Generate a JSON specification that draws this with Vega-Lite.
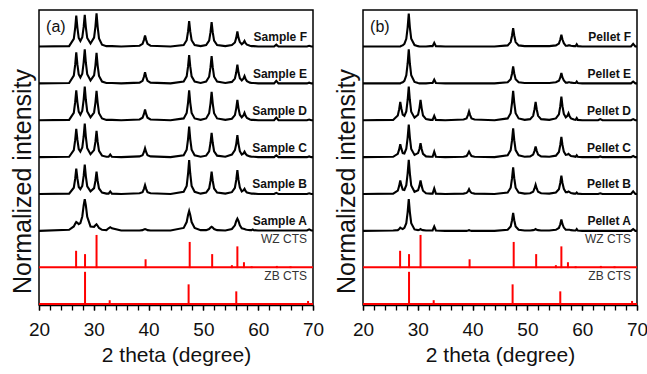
{
"$schema":"https://vega.github.io/schema/vega-lite/v6.json",
"background":"white",
"padding":{"left":9,"top":8,"right":0,"bottom":5},
"spacing":8,
"config":{"view":{"stroke":"black","strokeWidth":1.5},"font":"Liberation Sans",
"axisX":{"labelFontSize":19,"titleFontSize":21,"tickSize":5,"tickWidth":1.3,"tickColor":"black","domainColor":"black","domainWidth":1.5,"labelColor":"#111","titleColor":"#111","titleFontWeight":"normal","labelPadding":10,"titlePadding":5,"grid":false,"labelOverlap":false,"labelFlush":false,"labelFont":"Liberation Sans","titleFont":"Liberation Sans"},
"axisY":{"labels":false,"ticks":false,"domain":false,"grid":false,"titleFontSize":25,"titleFontWeight":"normal","titleColor":"#111","titlePadding":4,"titleFont":"Liberation Sans"}},
"datasets":{
"a":[
{"x":20,"F":7.01,"E":6.01,"D":5.01,"C":4.01,"B":3.01,"A":2.01},
{"x":25.5,"F":7.02,"E":6.02,"D":5.02,"C":4.02,"B":3.02,"A":2.04},
{"x":26.35,"F":7.22,"E":6.22,"D":5.21,"C":4.20,"B":3.18,"A":2.13},
{"x":26.6,"F":7.51,"E":6.51,"D":5.50,"C":4.47,"B":3.42,"A":2.20},
{"x":26.8,"F":7.85,"E":6.85,"D":5.82,"C":4.78,"B":3.70,"A":2.25},
{"x":27.0,"F":7.53,"E":6.53,"D":5.51,"C":4.49,"B":3.44,"A":2.23},
{"x":27.25,"F":7.24,"E":6.25,"D":5.24,"C":4.23,"B":3.20,"A":2.19},
{"x":27.55,"F":7.16,"E":6.17,"D":5.16,"C":4.16,"B":3.14,"A":2.22},
{"x":27.9,"F":7.26,"E":6.27,"D":5.27,"C":4.27,"B":3.23,"A":2.40},
{"x":28.15,"F":7.54,"E":6.58,"D":5.57,"C":4.57,"B":3.50,"A":2.70},
{"x":28.35,"F":7.87,"E":6.93,"D":5.92,"C":4.92,"B":3.81,"A":2.87},
{"x":28.55,"F":7.53,"E":6.57,"D":5.56,"C":4.56,"B":3.49,"A":2.70},
{"x":28.8,"F":7.24,"E":6.26,"D":5.25,"C":4.25,"B":3.22,"A":2.39},
{"x":29.4,"F":7.09,"E":6.09,"D":5.09,"C":4.09,"B":3.08,"A":2.13},
{"x":30.05,"F":7.25,"E":6.23,"D":5.22,"C":4.20,"B":3.17,"A":2.12},
{"x":30.3,"F":7.55,"E":6.50,"D":5.49,"C":4.43,"B":3.37,"A":2.16},
{"x":30.5,"F":7.91,"E":6.84,"D":5.81,"C":4.72,"B":3.62,"A":2.19},
{"x":30.7,"F":7.55,"E":6.50,"D":5.49,"C":4.43,"B":3.37,"A":2.15},
{"x":30.95,"F":7.23,"E":6.21,"D":5.20,"C":4.18,"B":3.16,"A":2.09},
{"x":31.5,"F":7.06,"E":6.06,"D":5.06,"C":4.05,"B":3.05,"A":2.04},
{"x":32.3,"F":7.02,"E":6.02,"D":5.02,"C":4.02,"B":3.02,"A":2.03},
{"x":32.7,"F":7.02,"E":6.02,"D":5.02,"C":4.02,"B":3.02,"A":2.08},
{"x":33.0,"F":7.02,"E":6.02,"D":5.02,"C":4.08,"B":3.08,"A":2.11},
{"x":33.3,"F":7.02,"E":6.02,"D":5.02,"C":4.02,"B":3.02,"A":2.08},
{"x":35,"F":7.01,"E":6.01,"D":5.01,"C":4.01,"B":3.01,"A":2.02},
{"x":38.35,"F":7.03,"E":6.03,"D":5.03,"C":4.03,"B":3.03,"A":2.02},
{"x":38.9,"F":7.08,"E":6.08,"D":5.08,"C":4.06,"B":3.06,"A":2.03},
{"x":39.15,"F":7.19,"E":6.19,"D":5.18,"C":4.15,"B":3.15,"A":2.05},
{"x":39.35,"F":7.31,"E":6.31,"D":5.30,"C":4.25,"B":3.25,"A":2.06},
{"x":39.55,"F":7.19,"E":6.19,"D":5.18,"C":4.15,"B":3.15,"A":2.05},
{"x":39.8,"F":7.08,"E":6.08,"D":5.08,"C":4.06,"B":3.06,"A":2.03},
{"x":40.35,"F":7.03,"E":6.03,"D":5.03,"C":4.03,"B":3.03,"A":2.02},
{"x":44,"F":7.01,"E":6.01,"D":5.01,"C":4.01,"B":3.01,"A":2.02},
{"x":46.4,"F":7.05,"E":6.06,"D":5.06,"C":4.06,"B":3.07,"A":2.09},
{"x":46.95,"F":7.18,"E":6.20,"D":5.21,"C":4.21,"B":3.23,"A":2.25},
{"x":47.2,"F":7.42,"E":6.47,"D":5.49,"C":4.50,"B":3.56,"A":2.44},
{"x":47.4,"F":7.70,"E":6.78,"D":5.82,"C":4.84,"B":3.93,"A":2.55},
{"x":47.6,"F":7.42,"E":6.47,"D":5.49,"C":4.50,"B":3.56,"A":2.44},
{"x":47.85,"F":7.18,"E":6.20,"D":5.21,"C":4.21,"B":3.23,"A":2.25},
{"x":48.4,"F":7.05,"E":6.06,"D":5.06,"C":4.06,"B":3.07,"A":2.09},
{"x":49.5,"F":7.02,"E":6.02,"D":5.02,"C":4.02,"B":3.02,"A":2.03},
{"x":50.5,"F":7.05,"E":6.06,"D":5.06,"C":4.05,"B":3.05,"A":2.03},
{"x":51.05,"F":7.17,"E":6.19,"D":5.20,"C":4.17,"B":3.16,"A":2.06},
{"x":51.3,"F":7.40,"E":6.45,"D":5.47,"C":4.40,"B":3.37,"A":2.10},
{"x":51.5,"F":7.67,"E":6.75,"D":5.78,"C":4.67,"B":3.62,"A":2.12},
{"x":51.7,"F":7.40,"E":6.45,"D":5.47,"C":4.40,"B":3.37,"A":2.10},
{"x":51.95,"F":7.17,"E":6.19,"D":5.20,"C":4.17,"B":3.16,"A":2.06},
{"x":52.5,"F":7.05,"E":6.06,"D":5.06,"C":4.05,"B":3.05,"A":2.03},
{"x":54,"F":7.02,"E":6.02,"D":5.02,"C":4.02,"B":3.02,"A":2.02},
{"x":55.2,"F":7.05,"E":6.05,"D":5.05,"C":4.08,"B":3.06,"A":2.06},
{"x":55.75,"F":7.12,"E":6.14,"D":5.15,"C":4.20,"B":3.18,"A":2.16},
{"x":56.0,"F":7.25,"E":6.31,"D":5.34,"C":4.37,"B":3.40,"A":2.28},
{"x":56.2,"F":7.42,"E":6.52,"D":5.56,"C":4.61,"B":3.66,"A":2.34},
{"x":56.4,"F":7.25,"E":6.31,"D":5.34,"C":4.37,"B":3.40,"A":2.28},
{"x":56.65,"F":7.13,"E":6.15,"D":5.16,"C":4.17,"B":3.19,"A":2.16},
{"x":57.0,"F":7.07,"E":6.09,"D":5.09,"C":4.08,"B":3.08,"A":2.08},
{"x":57.3,"F":7.11,"E":6.14,"D":5.14,"C":4.11,"B":3.11,"A":2.07},
{"x":57.5,"F":7.16,"E":6.21,"D":5.21,"C":4.16,"B":3.15,"A":2.06},
{"x":57.7,"F":7.10,"E":6.13,"D":5.13,"C":4.10,"B":3.09,"A":2.05},
{"x":57.95,"F":7.06,"E":6.07,"D":5.07,"C":4.06,"B":3.05,"A":2.04},
{"x":58.5,"F":7.03,"E":6.03,"D":5.03,"C":4.03,"B":3.03,"A":2.03},
{"x":58.8,"F":7.02,"E":6.02,"D":5.02,"C":4.02,"B":3.02,"A":2.03},
{"x":59.0,"F":7.02,"E":6.02,"D":5.02,"C":4.02,"B":3.02,"A":2.05},
{"x":59.2,"F":7.02,"E":6.02,"D":5.02,"C":4.02,"B":3.02,"A":2.03},
{"x":60,"F":7.01,"E":6.01,"D":5.01,"C":4.01,"B":3.01,"A":2.02},
{"x":62.9,"F":7.01,"E":6.01,"D":5.01,"C":4.01,"B":3.01,"A":2.02},
{"x":63.3,"F":7.06,"E":6.08,"D":5.08,"C":4.06,"B":3.04,"A":2.02},
{"x":63.7,"F":7.01,"E":6.01,"D":5.01,"C":4.01,"B":3.01,"A":2.02},
{"x":66,"F":7.01,"E":6.01,"D":5.01,"C":4.01,"B":3.01,"A":2.02},
{"x":68.9,"F":7.01,"E":6.01,"D":5.01,"C":4.01,"B":3.01,"A":2.02},
{"x":69.3,"F":7.03,"E":6.03,"D":5.03,"C":4.03,"B":3.03,"A":2.05},
{"x":69.7,"F":7.01,"E":6.01,"D":5.01,"C":4.01,"B":3.01,"A":2.02},
{"x":70,"F":7.01,"E":6.01,"D":5.01,"C":4.01,"B":3.01,"A":2.02}
],
"b":[
{"x":20,"F":7.01,"E":6.01,"D":5.01,"C":4.01,"B":3.01,"A":2.01},
{"x":25.5,"F":7.01,"E":6.01,"D":5.02,"C":4.02,"B":3.02,"A":2.02},
{"x":26.35,"F":7.01,"E":6.01,"D":5.14,"C":4.10,"B":3.10,"A":2.03},
{"x":26.6,"F":7.01,"E":6.01,"D":5.31,"C":4.22,"B":3.23,"A":2.06},
{"x":26.8,"F":7.01,"E":6.01,"D":5.51,"C":4.36,"B":3.38,"A":2.10},
{"x":27.0,"F":7.03,"E":6.03,"D":5.33,"C":4.24,"B":3.25,"A":2.08},
{"x":27.25,"F":7.04,"E":6.04,"D":5.16,"C":4.12,"B":3.13,"A":2.06},
{"x":27.55,"F":7.08,"E":6.08,"D":5.13,"C":4.11,"B":3.12,"A":2.09},
{"x":27.9,"F":7.22,"E":6.23,"D":5.25,"C":4.24,"B":3.25,"A":2.22},
{"x":28.15,"F":7.53,"E":6.55,"D":5.56,"C":4.54,"B":3.57,"A":2.52},
{"x":28.35,"F":7.90,"E":6.93,"D":5.92,"C":4.89,"B":3.94,"A":2.87},
{"x":28.55,"F":7.53,"E":6.55,"D":5.56,"C":4.54,"B":3.57,"A":2.52},
{"x":28.8,"F":7.22,"E":6.23,"D":5.24,"C":4.23,"B":3.24,"A":2.22},
{"x":29.4,"F":7.05,"E":6.05,"D":5.08,"C":4.07,"B":3.07,"A":2.05},
{"x":30.05,"F":7.02,"E":6.02,"D":5.16,"C":4.12,"B":3.11,"A":2.03},
{"x":30.3,"F":7.01,"E":6.01,"D":5.34,"C":4.23,"B":3.23,"A":2.04},
{"x":30.5,"F":7.01,"E":6.01,"D":5.56,"C":4.39,"B":3.38,"A":2.06},
{"x":30.7,"F":7.01,"E":6.01,"D":5.34,"C":4.23,"B":3.23,"A":2.04},
{"x":30.95,"F":7.01,"E":6.01,"D":5.14,"C":4.10,"B":3.10,"A":2.03},
{"x":31.5,"F":7.01,"E":6.01,"D":5.04,"C":4.03,"B":3.03,"A":2.02},
{"x":32.3,"F":7.02,"E":6.02,"D":5.02,"C":4.02,"B":3.02,"A":2.02},
{"x":32.7,"F":7.02,"E":6.02,"D":5.02,"C":4.02,"B":3.02,"A":2.02},
{"x":33.0,"F":7.11,"E":6.11,"D":5.13,"C":4.16,"B":3.16,"A":2.13},
{"x":33.3,"F":7.02,"E":6.02,"D":5.02,"C":4.02,"B":3.02,"A":2.02},
{"x":35,"F":7.01,"E":6.01,"D":5.01,"C":4.01,"B":3.01,"A":2.01},
{"x":38.35,"F":7.01,"E":6.01,"D":5.03,"C":4.02,"B":3.02,"A":2.01},
{"x":38.9,"F":7.01,"E":6.01,"D":5.06,"C":4.04,"B":3.04,"A":2.01},
{"x":39.15,"F":7.01,"E":6.01,"D":5.15,"C":4.10,"B":3.08,"A":2.02},
{"x":39.35,"F":7.01,"E":6.01,"D":5.25,"C":4.16,"B":3.14,"A":2.03},
{"x":39.55,"F":7.01,"E":6.01,"D":5.15,"C":4.10,"B":3.08,"A":2.02},
{"x":39.8,"F":7.01,"E":6.01,"D":5.06,"C":4.04,"B":3.04,"A":2.01},
{"x":40.35,"F":7.01,"E":6.01,"D":5.03,"C":4.02,"B":3.02,"A":2.01},
{"x":44,"F":7.01,"E":6.01,"D":5.01,"C":4.01,"B":3.01,"A":2.01},
{"x":46.4,"F":7.04,"E":6.04,"D":5.06,"C":4.06,"B":3.05,"A":2.04},
{"x":46.95,"F":7.13,"E":6.12,"D":5.20,"C":4.20,"B":3.18,"A":2.13},
{"x":47.2,"F":7.31,"E":6.28,"D":5.49,"C":4.47,"B":3.44,"A":2.30},
{"x":47.4,"F":7.51,"E":6.47,"D":5.81,"C":4.79,"B":3.73,"A":2.50},
{"x":47.6,"F":7.31,"E":6.28,"D":5.49,"C":4.47,"B":3.44,"A":2.30},
{"x":47.85,"F":7.13,"E":6.12,"D":5.20,"C":4.20,"B":3.18,"A":2.13},
{"x":48.4,"F":7.04,"E":6.04,"D":5.06,"C":4.06,"B":3.05,"A":2.04},
{"x":49.5,"F":7.02,"E":6.02,"D":5.02,"C":4.02,"B":3.02,"A":2.02},
{"x":50.5,"F":7.02,"E":6.02,"D":5.04,"C":4.03,"B":3.03,"A":2.02},
{"x":51.05,"F":7.02,"E":6.02,"D":5.13,"C":4.08,"B":3.07,"A":2.03},
{"x":51.3,"F":7.02,"E":6.02,"D":5.31,"C":4.18,"B":3.16,"A":2.04},
{"x":51.5,"F":7.02,"E":6.02,"D":5.51,"C":4.30,"B":3.26,"A":2.06},
{"x":51.7,"F":7.02,"E":6.02,"D":5.31,"C":4.18,"B":3.16,"A":2.04},
{"x":51.95,"F":7.02,"E":6.02,"D":5.13,"C":4.08,"B":3.07,"A":2.03},
{"x":52.5,"F":7.02,"E":6.02,"D":5.04,"C":4.03,"B":3.03,"A":2.02},
{"x":54,"F":7.02,"E":6.02,"D":5.02,"C":4.02,"B":3.02,"A":2.02},
{"x":55.2,"F":7.04,"E":6.04,"D":5.06,"C":4.05,"B":3.05,"A":2.04},
{"x":55.75,"F":7.09,"E":6.08,"D":5.17,"C":4.15,"B":3.14,"A":2.09},
{"x":56.0,"F":7.20,"E":6.17,"D":5.39,"C":4.34,"B":3.31,"A":2.19},
{"x":56.2,"F":7.33,"E":6.29,"D":5.65,"C":4.56,"B":3.51,"A":2.32},
{"x":56.4,"F":7.20,"E":6.17,"D":5.39,"C":4.34,"B":3.31,"A":2.19},
{"x":56.65,"F":7.10,"E":6.09,"D":5.18,"C":4.16,"B":3.15,"A":2.10},
{"x":57.0,"F":7.03,"E":6.03,"D":5.09,"C":4.07,"B":3.06,"A":2.04},
{"x":57.3,"F":7.03,"E":6.03,"D":5.13,"C":4.08,"B":3.06,"A":2.04},
{"x":57.5,"F":7.04,"E":6.04,"D":5.20,"C":4.10,"B":3.08,"A":2.04},
{"x":57.7,"F":7.04,"E":6.04,"D":5.12,"C":4.07,"B":3.06,"A":2.04},
{"x":57.95,"F":7.03,"E":6.03,"D":5.06,"C":4.04,"B":3.04,"A":2.03},
{"x":58.5,"F":7.02,"E":6.02,"D":5.03,"C":4.03,"B":3.02,"A":2.02},
{"x":58.8,"F":7.02,"E":6.02,"D":5.02,"C":4.02,"B":3.02,"A":2.02},
{"x":59.0,"F":7.07,"E":6.06,"D":5.07,"C":4.06,"B":3.05,"A":2.06},
{"x":59.2,"F":7.02,"E":6.02,"D":5.02,"C":4.02,"B":3.02,"A":2.02},
{"x":60,"F":7.01,"E":6.01,"D":5.01,"C":4.01,"B":3.01,"A":2.01},
{"x":62.9,"F":7.01,"E":6.01,"D":5.01,"C":4.01,"B":3.01,"A":2.01},
{"x":63.3,"F":7.01,"E":6.01,"D":5.04,"C":4.03,"B":3.03,"A":2.01},
{"x":63.7,"F":7.01,"E":6.01,"D":5.01,"C":4.01,"B":3.01,"A":2.01},
{"x":66,"F":7.01,"E":6.01,"D":5.01,"C":4.01,"B":3.01,"A":2.01},
{"x":68.9,"F":7.01,"E":6.01,"D":5.01,"C":4.01,"B":3.01,"A":2.01},
{"x":69.3,"F":7.08,"E":6.06,"D":5.04,"C":4.04,"B":3.08,"A":2.06},
{"x":69.7,"F":7.01,"E":6.01,"D":5.01,"C":4.01,"B":3.01,"A":2.01},
{"x":70,"F":7.01,"E":6.01,"D":5.01,"C":4.01,"B":3.01,"A":2.01}
],
"sticks":[
{"r":"WZ","x":26.77,"b":1,"t":1.47},{"r":"WZ","x":28.4,"b":1,"t":1.38},{"r":"WZ","x":30.5,"b":1,"t":1.90},{"r":"WZ","x":39.45,"b":1,"t":1.24},{"r":"WZ","x":47.5,"b":1,"t":1.71},{"r":"WZ","x":51.6,"b":1,"t":1.38},{"r":"WZ","x":55.2,"b":1,"t":1.08},{"r":"WZ","x":56.2,"b":1,"t":1.59},{"r":"WZ","x":57.4,"b":1,"t":1.16},{"r":"WZ","x":58.8,"b":1,"t":1.05},{"r":"WZ","x":63.4,"b":1,"t":1.06},{"r":"WZ","x":65.9,"b":1,"t":1.05},
{"r":"ZB","x":28.4,"b":0,"t":0.90},{"r":"ZB","x":32.9,"b":0,"t":0.13},{"r":"ZB","x":47.3,"b":0,"t":0.56},{"r":"ZB","x":56.0,"b":0,"t":0.37},{"r":"ZB","x":58.8,"b":0,"t":0.05},{"r":"ZB","x":69.1,"b":0,"t":0.11}
],
"refs":[{"r":"WZ","b":1,"t":"WZ CTS"},{"r":"ZB","b":0,"t":"ZB CTS"}],
"labA":[{"t":"Sample F","k":7},{"t":"Sample E","k":6},{"t":"Sample D","k":5},{"t":"Sample C","k":4},{"t":"Sample B","k":3},{"t":"Sample A","k":2}],
"labB":[{"t":"Pellet F","k":7},{"t":"Pellet E","k":6},{"t":"Pellet D","k":5},{"t":"Pellet C","k":4},{"t":"Pellet B","k":3},{"t":"Pellet A","k":2}]
},
"hconcat":[
{"width":274,"height":295,
"resolve":{"axis":{"x":"independent"}},
"layer":[
{"data":{"name":"a"},"transform":[{"fold":["F","E","D","C","B","A"],"as":["s","y"]}],
"mark":{"type":"line","color":"black","strokeWidth":2.1},
"encoding":{"x":{"field":"x","type":"quantitative","title":"2 theta (degree)","scale":{"domain":[20,70],"nice":false,"zero":false},"axis":{"orient":"bottom","values":[20,30,40,50,60,70],"labelOverlap":false,"labelFlush":false}},
"y":{"field":"y","type":"quantitative","title":"Normalized intensity","scale":{"domain":[0,8],"nice":false,"zero":false},"axis":{"titleY":171}},
"detail":{"field":"s"}}},
{"data":{"name":"refs"},"mark":{"type":"rule","color":"#ff0000","strokeWidth":2,"yOffset":-1},
"encoding":{"x":{"datum":20,"axis":null},"x2":{"datum":70},"y":{"field":"b","type":"quantitative","title":"Normalized intensity"}}},
{"data":{"name":"sticks"},"mark":{"type":"rule","color":"#ff0000","strokeWidth":2},
"encoding":{"x":{"field":"x","type":"quantitative","title":null,"axis":{"orient":"bottom","values":[20,22,24,26,28,30,32,34,36,38,40,42,44,46,48,50,52,54,56,58,60,62,64,66,68,70],"labels":false,"domain":false,"title":null}},"y":{"field":"b","type":"quantitative","title":"Normalized intensity"},"y2":{"field":"t"}}},
{"data":{"name":"labA"},"mark":{"type":"text","align":"right","baseline":"middle","dy":-10,"fontWeight":"bold","fontSize":12,"color":"#111","font":"Liberation Sans"},
"encoding":{"x":{"datum":68.9,"axis":null},"y":{"field":"k","type":"quantitative","title":"Normalized intensity"},"text":{"field":"t"}}},
{"data":{"name":"refs"},"mark":{"type":"text","align":"right","baseline":"middle","dy":-29,"fontSize":12,"color":"#333","font":"Liberation Sans"},
"encoding":{"x":{"datum":68.9,"axis":null},"y":{"field":"b","type":"quantitative","title":"Normalized intensity"},"text":{"field":"t"}}},
{"data":{"values":[{"t":"(a)"}]},"mark":{"type":"text","align":"left","baseline":"middle","fontSize":16,"color":"#111","font":"Liberation Sans"},
"encoding":{"x":{"datum":21.3,"axis":null},"y":{"datum":7.54},"text":{"field":"t"}}}
]},
{"width":274,"height":295,
"resolve":{"axis":{"x":"independent"}},
"layer":[
{"data":{"name":"b"},"transform":[{"fold":["F","E","D","C","B","A"],"as":["s","y"]}],
"mark":{"type":"line","color":"black","strokeWidth":2.1},
"encoding":{"x":{"field":"x","type":"quantitative","title":"2 theta (degree)","scale":{"domain":[20,70],"nice":false,"zero":false},"axis":{"orient":"bottom","values":[20,30,40,50,60,70],"labelOverlap":false,"labelFlush":false}},
"y":{"field":"y","type":"quantitative","title":"Normalized intensity","scale":{"domain":[0,8],"nice":false,"zero":false},"axis":{"titleY":171}},
"detail":{"field":"s"}}},
{"data":{"name":"refs"},"mark":{"type":"rule","color":"#ff0000","strokeWidth":2,"yOffset":-1},
"encoding":{"x":{"datum":20,"axis":null},"x2":{"datum":70},"y":{"field":"b","type":"quantitative","title":"Normalized intensity"}}},
{"data":{"name":"sticks"},"mark":{"type":"rule","color":"#ff0000","strokeWidth":2},
"encoding":{"x":{"field":"x","type":"quantitative","title":null,"axis":{"orient":"bottom","values":[20,22,24,26,28,30,32,34,36,38,40,42,44,46,48,50,52,54,56,58,60,62,64,66,68,70],"labels":false,"domain":false,"title":null}},"y":{"field":"b","type":"quantitative","title":"Normalized intensity"},"y2":{"field":"t"}}},
{"data":{"name":"labB"},"mark":{"type":"text","align":"right","baseline":"middle","dy":-10,"fontWeight":"bold","fontSize":12,"color":"#111","font":"Liberation Sans"},
"encoding":{"x":{"datum":68.9,"axis":null},"y":{"field":"k","type":"quantitative","title":"Normalized intensity"},"text":{"field":"t"}}},
{"data":{"name":"refs"},"mark":{"type":"text","align":"right","baseline":"middle","dy":-29,"fontSize":12,"color":"#333","font":"Liberation Sans"},
"encoding":{"x":{"datum":68.9,"axis":null},"y":{"field":"b","type":"quantitative","title":"Normalized intensity"},"text":{"field":"t"}}},
{"data":{"values":[{"t":"(b)"}]},"mark":{"type":"text","align":"left","baseline":"middle","fontSize":16,"color":"#111","font":"Liberation Sans"},
"encoding":{"x":{"datum":21.3,"axis":null},"y":{"datum":7.54},"text":{"field":"t"}}}
]}
]
}
